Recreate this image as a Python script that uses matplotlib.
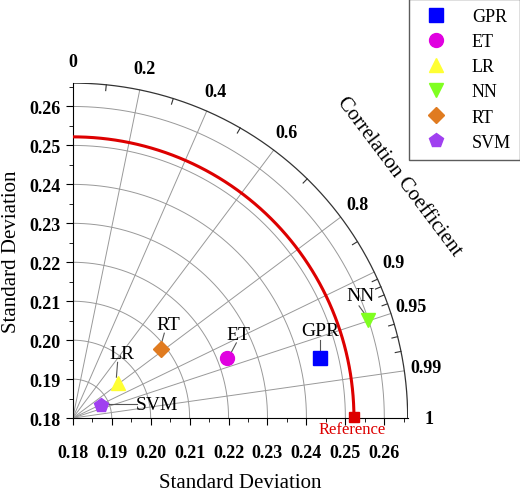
import numpy as np
import matplotlib
matplotlib.use("Agg")
import matplotlib.pyplot as plt

plt.rcParams['font.family'] = ['Liberation Serif', 'DejaVu Serif']

models = ["GPR", "ET", "LR", "NN", "RT", "SVM"]
xs = [0.2436, 0.2197, 0.1915, 0.2559, 0.2026, 0.1872]
ys = [0.1954, 0.1954, 0.1889, 0.2053, 0.1978, 0.1834]
colors = ["#0000ff", "#e000e0", "#ffff33", "#80ff20", "#e07b20", "#a040f0"]
markers = ["s", "o", "^", "v", "D", "p"]
label_pos = [(0.2436, 0.2025), (0.2225, 0.2015), (0.1925, 0.1965), (0.2540, 0.2115), (0.2045, 0.2040), (0.2015, 0.1835)]
ref_std = 0.2522
origin = 0.18
rmax = 0.266
corr_major = [0, 0.2, 0.4, 0.6, 0.8, 0.9, 0.95, 0.99, 1]
corr_labels = ["0", "0.2", "0.4", "0.6", "0.8", "0.9", "0.95", "0.99", "1"]
std_ticks = [0.18, 0.19, 0.20, 0.21, 0.22, 0.23, 0.24, 0.25, 0.26]

fig = plt.figure(figsize=(5.20, 4.89), dpi=100)
ax = fig.add_axes([0.140, 0.143, 0.644, 0.685])
ax.set_xlim(origin, rmax)
ax.set_ylim(origin, rmax)
R = rmax - origin
th = np.linspace(0, np.pi / 2, 300)
for s in np.arange(0.19, 0.2651, 0.01):
    r = s - origin
    ax.plot(origin + r * np.cos(th), origin + r * np.sin(th), color="#999999", lw=0.7, zorder=1)
ax.plot(origin + R * np.cos(th), origin + R * np.sin(th), color="#333333", lw=0.9, zorder=2)
for c in corr_major[1:-1]:
    a = np.arccos(c)
    ax.plot([origin, origin + R * np.cos(a)], [origin, origin + R * np.sin(a)], color="#999999", lw=0.7, zorder=1)
for c in list(np.arange(0.1, 0.9, 0.2)) + [0.85, 0.91, 0.92, 0.93, 0.94, 0.96, 0.97, 0.98]:
    a = np.arccos(c)
    ax.plot([origin + R * np.cos(a), origin + (R - 0.0015) * np.cos(a)],
            [origin + R * np.sin(a), origin + (R - 0.0015) * np.sin(a)], color="#333333", lw=0.8)
for c, lab in zip(corr_major, corr_labels):
    a = np.arccos(c)
    rr = R + 0.0055
    ax.text(origin + rr * np.cos(a), origin + rr * np.sin(a), lab, ha="center", va="center",
            fontsize=13, fontweight="bold")
ang = np.deg2rad(36.6)
ax.text(origin + 0.1045 * np.cos(ang), origin + 0.1045 * np.sin(ang), "Correlation Coefficient",
        rotation=-53, ha="center", va="center", fontsize=15)
rr = ref_std - origin
ax.plot(origin + rr * np.cos(th), origin + rr * np.sin(th), color="#dd0000", lw=2.2, zorder=3)
ax.plot([ref_std], [origin + 0.0004], marker="s", color="#dd0000", ms=7, clip_on=False, zorder=5)
ax.text(ref_std - 0.0005, origin - 0.0008, "Reference", color="#dd0000", ha="center", va="top", fontsize=12)

for m, x, y, c, mk, (lx, ly) in zip(models, xs, ys, colors, markers, label_pos):
    ax.plot(x, y, marker=mk, color=c, ms=10 if mk != "D" else 8, ls="none", label=m, zorder=6)
    ax.text(lx, ly, m, ha="center", va="center", fontsize=14, zorder=6)
ax.plot([0.2436, 0.2436], [0.1968, 0.2], color="#555555", lw=0.8)
ax.plot([0.2205, 0.222], [0.1965, 0.1993], color="#555555", lw=0.8)
ax.plot([0.1912, 0.1915], [0.1905, 0.1943], color="#555555", lw=0.8)
ax.plot([0.2535, 0.2548], [0.2088, 0.2070], color="#555555", lw=0.8)
ax.plot([0.2028, 0.2035], [0.1993, 0.2018], color="#555555", lw=0.8)
ax.plot([0.1885, 0.1965], [0.1836, 0.1836], color="#555555", lw=0.8)

for sp in ["top", "right"]:
    ax.spines[sp].set_visible(False)
ax.spines["left"].set_bounds(origin, rmax)
ax.spines["bottom"].set_bounds(origin, rmax)
ax.set_xticks(std_ticks)
ax.set_yticks(std_ticks)
ax.set_xticklabels([f"{t:.2f}" for t in std_ticks], fontweight="bold", fontsize=13)
ax.set_yticklabels([f"{t:.2f}" for t in std_ticks], fontweight="bold", fontsize=13)
ax.set_xticks(np.arange(0.185, 0.266, 0.01), minor=True)
ax.set_yticks(np.arange(0.185, 0.266, 0.01), minor=True)
ax.tick_params(which="major", direction="out", length=5)
ax.tick_params(which="minor", direction="out", length=3)
ax.tick_params(axis="x", which="major", pad=14)
ax.set_xlabel("Standard Deviation", fontsize=15, labelpad=8)
ax.set_ylabel("Standard Deviation", fontsize=15, labelpad=6)

leg = fig.legend(loc="upper right", bbox_to_anchor=(1.0, 1.0), fontsize=13, frameon=True,
                 fancybox=False, edgecolor="#333333", handletextpad=1.0, borderpad=0.5,
                 labelspacing=0.45, borderaxespad=0.0)
fig.savefig("out.png", dpi=100)
